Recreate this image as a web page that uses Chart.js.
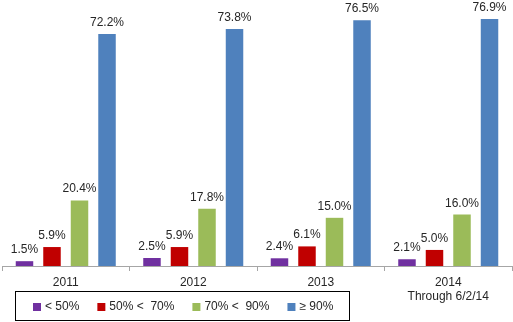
<!DOCTYPE html>
<html>
<head>
<meta charset="utf-8">
<script src="https://cdn.jsdelivr.net/npm/chart.js@4/dist/chart.umd.min.js"></script>
<style>
  html, body { margin: 0; padding: 0; background: #fff; }
  #wrap { width: 513px; height: 322px; position: relative; }
</style>
</head>
<body>
<div id="wrap"><canvas id="scoreChart"></canvas></div>
<script>
const years = ['2011', '2012', '2013', ['2014', 'Through 6/2/14']];
const bandNames = ['< 50%', '50% <  70%', '70% <  90%', '\u2265 90%'];
const under50 = [1.5, 2.5, 2.4, 2.1];
const from50to70 = [5.9, 5.9, 6.1, 5.0];
const from70to90 = [20.4, 17.8, 15.0, 16.0];
const over90 = [72.2, 73.8, 76.5, 76.9];

const bandColors = ['#7030A0', '#C00000', '#9BBB59', '#4F81BD'];
const FONT = '"Liberation Sans", Arial, sans-serif';

// percent value over each bar
const valueLabels = {
    id: 'valueLabels',
    afterDatasetsDraw(chart) {
        const ctx = chart.ctx;
        ctx.save();
        ctx.font = '12px ' + FONT;
        ctx.fillStyle = '#262626';
        ctx.textAlign = 'center';
        ctx.textBaseline = 'alphabetic';
        chart.data.datasets.forEach((ds, i) => {
            chart.getDatasetMeta(i).data.forEach((bar, j) => {
                ctx.fillText(ds.data[j].toFixed(1) + '%', bar.x, bar.y - 8);
            });
        });
        ctx.restore();
    }
};

// boxed legend sitting under the first three years
const boxLegend = {
    id: 'boxLegend',
    afterDraw(chart) {
        const ctx = chart.ctx;
        const boxL = 15, boxT = 291, boxR = 349, boxB = 320;
        ctx.save();
        ctx.strokeStyle = '#000';
        ctx.lineWidth = 1;
        ctx.strokeRect(boxL + 0.5, boxT + 0.5, boxR - boxL, boxB - boxT);
        ctx.font = '12px ' + FONT;
        ctx.textBaseline = 'middle';
        let x = 33;
        const cy = 307;
        chart.data.datasets.forEach(ds => {
            ctx.fillStyle = ds.backgroundColor;
            ctx.fillRect(x, cy - 4, 8, 8);
            x += 12;
            ctx.fillStyle = '#262626';
            ctx.fillText(ds.label, x, cy);
            x += ctx.measureText(ds.label).width + 18;
        });
        ctx.restore();
    }
};

const seriesValues = [under50, from50to70, from70to90, over90];

new Chart(document.getElementById('scoreChart'), {
    type: 'bar',
    data: {
        labels: years,
        datasets: seriesValues.map((vals, i) => ({
            label: bandNames[i],
            data: vals,
            backgroundColor: bandColors[i],
            borderWidth: 0,
            categoryPercentage: 0.863,
            barPercentage: 0.636
        }))
    },
    options: {
        responsive: true,
        maintainAspectRatio: false,
        animation: false,
        layout: { padding: { left: 2, right: 1, top: 9, bottom: 0 } },
        plugins: {
            legend: { display: false },
            tooltip: { enabled: false }
        },
        scales: {
            x: {
                grid: {
                    display: true,
                    drawOnChartArea: false,
                    drawTicks: true,
                    tickLength: 5,
                    color: '#A6A6A6',
                    offset: true
                },
                border: { display: true, color: '#A6A6A6' },
                ticks: {
                    color: '#262626',
                    padding: 5,
                    font: { family: FONT, size: 12, lineHeight: 1.15 },
                    maxRotation: 0
                },
                afterFit(scale) { scale.height = 56; }
            },
            y: {
                display: false,
                min: 0,
                max: 80
            }
        }
    },
    plugins: [valueLabels, boxLegend]
});
</script>
</body>
</html>
